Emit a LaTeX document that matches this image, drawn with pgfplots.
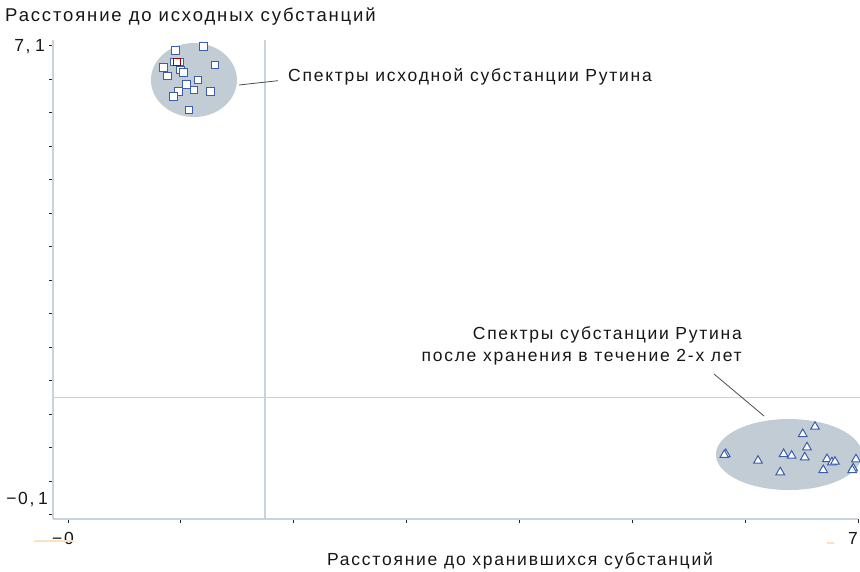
\documentclass[border=0pt]{standalone}
\usepackage{pgfplots}
\pgfplotsset{compat=1.18}
\usepackage{fontspec}
\setmainfont{Liberation Sans}[LetterSpace=10]
\definecolor{ellcol}{HTML}{C2CCD4}
\definecolor{axcol}{HTML}{C8D3DD}
\definecolor{mkblue}{HTML}{3A5DB0}
\definecolor{txt}{HTML}{161616}
\begin{document}
\begin{tikzpicture}[font=\fontsize{17.5}{22}\selectfont]
\path[use as bounding box] (-53pt,-52pt) rectangle (807pt,519pt);
\begin{axis}[
  scale only axis, width=805pt, height=479pt,
  xmin=-0.1329, xmax=7.0, ymin=-0.166, ymax=7.19,
  axis x line=bottom, axis y line=left,
  axis line style={draw=axcol, line width=1.3pt, -},
  xtick={0,1,2,3,4,5,6,7},
  ytick={-0.1,0.4143,0.9286,1.4429,1.9571,2.4714,2.9857,3.5,4.0143,4.5286,5.0429,5.5571,6.0714,6.5857,7.1},
  xticklabels={}, yticklabels={},
  tick align=outside, major tick length=4pt,
  tick style={draw=black!85, line width=0.8pt},
  clip=false,
]
\fill[ellcol] (axis cs:1.116,6.575) ellipse [x radius=43pt, y radius=37pt];
\fill[ellcol] (axis cs:6.388,0.824) ellipse [x radius=73pt, y radius=35.5pt];
\draw[axcol, line width=1.3pt] (axis cs:1.746,-0.166) -- (axis cs:1.746,7.19);
\draw[axcol, line width=1.3pt] (axis cs:-0.1329,1.70) -- (axis cs:7.02,1.70);
\addplot[only marks, mark=square*, mark size=3.8pt,
  mark options={fill=white, draw=mkblue, line width=1pt}] coordinates {
  (0.954,7.025) (1.199,7.086) (0.939,6.851) (0.992,6.851)
  (0.848,6.770) (1.302,6.805) (0.999,6.728) (1.022,6.693) (0.880,6.636)
  (1.152,6.575) (1.052,6.509) (1.116,6.421) (0.981,6.395) (1.264,6.395)
  (0.933,6.318) (1.072,6.114)
};
\addplot[only marks, mark=square*, mark size=3.8pt,
  mark options={fill=white, draw=red!60!black, line width=1pt}] coordinates {
  (0.966,6.851)
};
\addplot[only marks, mark=triangle*, mark size=5pt,
  mark options={fill=white, draw=mkblue, line width=1pt}] coordinates {
  (6.619,1.251) (6.510,1.139) (5.828,0.832) (5.815,0.817) (6.114,0.729)
  (6.341,0.832) (6.412,0.806) (6.548,0.935) (6.528,0.781) (6.311,0.551)
  (6.725,0.755) (6.769,0.705) (6.796,0.714) (6.692,0.586) (6.982,0.751)
  (6.958,0.612) (6.949,0.586)
};
\end{axis}
% texts (1px = 1pt, origin at the lower left corner of the axis box)
\node[anchor=west, inner sep=0pt, text=txt, font=\fontsize{18.5}{22}\selectfont] at (-48pt,502pt) {Расстояние до исходных субстанций};
\node[anchor=center, inner sep=0pt, text=txt] at (467pt,-42pt) {Расстояние до хранившихся субстанций};
\node[anchor=west, inner sep=0pt, text=txt] at (235pt,442pt) {Спектры исходной субстанции Рутина};
\node[anchor=east, inner sep=0pt, align=right, text=txt] at (689pt,173pt) {Спектры субстанции Рутина\\после хранения в течение 2-х лет};
\node[anchor=east, inner sep=0pt, text=txt] at (-8pt,472pt) {7\hspace{1.5pt},\hspace{4.5pt}1};
\node[anchor=east, inner sep=0pt, text=txt] at (-5pt,19pt) {−0,\hspace{3.5pt}1};
\node[anchor=east, inner sep=0pt, text=txt] at (21pt,-19pt) {−0};
\node[anchor=center, inner sep=0pt, text=txt] at (800pt,-19pt) {7};
\draw[black!70, line width=0.8pt] (186pt,434pt) -- (225pt,438.3pt);
\draw[black!70, line width=0.8pt] (661pt,145pt) -- (711pt,103pt);
\draw[orange!25, line width=1.5pt] (-19pt,-22pt) -- (21pt,-22pt);
\draw[orange!25, line width=1.5pt] (774pt,-24pt) -- (781pt,-24pt);
\end{tikzpicture}
\end{document}
